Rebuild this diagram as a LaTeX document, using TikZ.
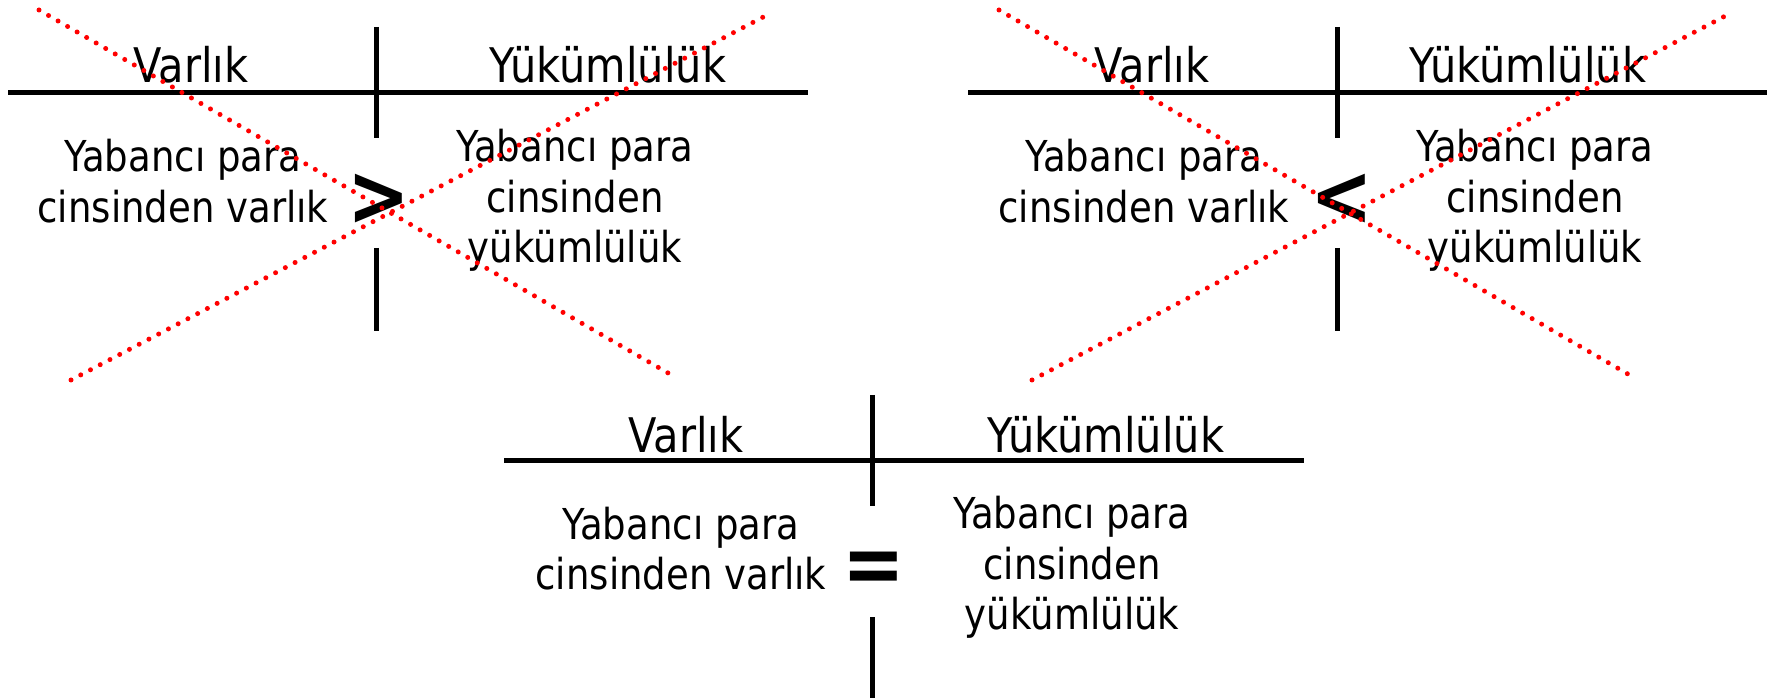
\documentclass[tikz,border=0pt]{standalone}
\usepackage{fontspec}
\setmainfont{DejaVu Sans}[FakeStretch=0.87]
\begin{document}
\begin{tikzpicture}[x=0.5pt,y=-0.5pt,
  rule/.style={line width=2.5pt,black},
  cross/.style={red,line width=2.5pt,line cap=round,dash pattern=on 0pt off 5.5pt},
  hdr/.style={font=\fontsize{23.85pt}{28pt}\selectfont,anchor=base,inner sep=0pt},
  body/.style={font=\fontsize{21.3pt}{25.25pt}\selectfont,anchor=base,inner sep=0pt},
  sym/.style={font=\bfseries\fontsize{43pt}{50pt}\selectfont,inner sep=0pt}]
\useasboundingbox (0,0) rectangle (1769,700);

% group 1 (top left)
\begin{scope}[shift={(376,93)}]
\draw[rule] (-368,0) -- (432,0);
\draw[rule] (0,-66) -- (0,45);
\draw[rule] (0,155) -- (0,238);
\node[hdr] (a-h1) at (-185,-10) {Varlık};
\node[hdr] (a-h2) at (232,-10) {Yükümlülük};
\node[body] (a-l) at (-193,79) {\begin{tabular}[t]{@{}c@{}}Yabancı para\\cinsinden varlık\end{tabular}};
\node[body] (a-r) at (199,69) {\begin{tabular}[t]{@{}c@{}}Yabancı para\\cinsinden\\yükümlülük\end{tabular}};
\node[sym] (a-s) at (3,107) {>};
\end{scope}

% group 2 (top right)
\begin{scope}[shift={(1337,93)}]
\draw[rule] (-369,0) -- (430,0);
\draw[rule] (0,-66) -- (0,45);
\draw[rule] (0,155) -- (0,238);
\node[hdr] (b-h1) at (-185,-10) {Varlık};
\node[hdr] (b-h2) at (191,-10) {Yükümlülük};
\node[body] (b-l) at (-193,79) {\begin{tabular}[t]{@{}c@{}}Yabancı para\\cinsinden varlık\end{tabular}};
\node[body] (b-r) at (198,69) {\begin{tabular}[t]{@{}c@{}}Yabancı para\\cinsinden\\yükümlülük\end{tabular}};
\node[sym] (b-s) at (5,107) {<};
\end{scope}

% group 3 (bottom)
\begin{scope}[shift={(872,461)}]
\draw[rule] (-368,0) -- (432,0);
\draw[rule] (0,-66) -- (0,45);
\draw[rule] (0,156) -- (0,237);
\node[hdr] (c-h1) at (-186,-9) {Varlık};
\node[hdr] (c-h2) at (234,-9) {Yükümlülük};
\node[body] (c-l) at (-191,78) {\begin{tabular}[t]{@{}c@{}}Yabancı para\\cinsinden varlık\end{tabular}};
\node[body] (c-r) at (200,68) {\begin{tabular}[t]{@{}c@{}}Yabancı para\\cinsinden\\yükümlülük\end{tabular}};
\node[sym] (c-s) at (2,112) {=};
\end{scope}

% red crosses
\draw[cross] (39,10) -- (675,377);
\draw[cross] (71,380) -- (769,14);
\draw[cross] (999,10) -- (1633,377);
\draw[cross] (1032,380) -- (1729,14);
\end{tikzpicture}
\end{document}
